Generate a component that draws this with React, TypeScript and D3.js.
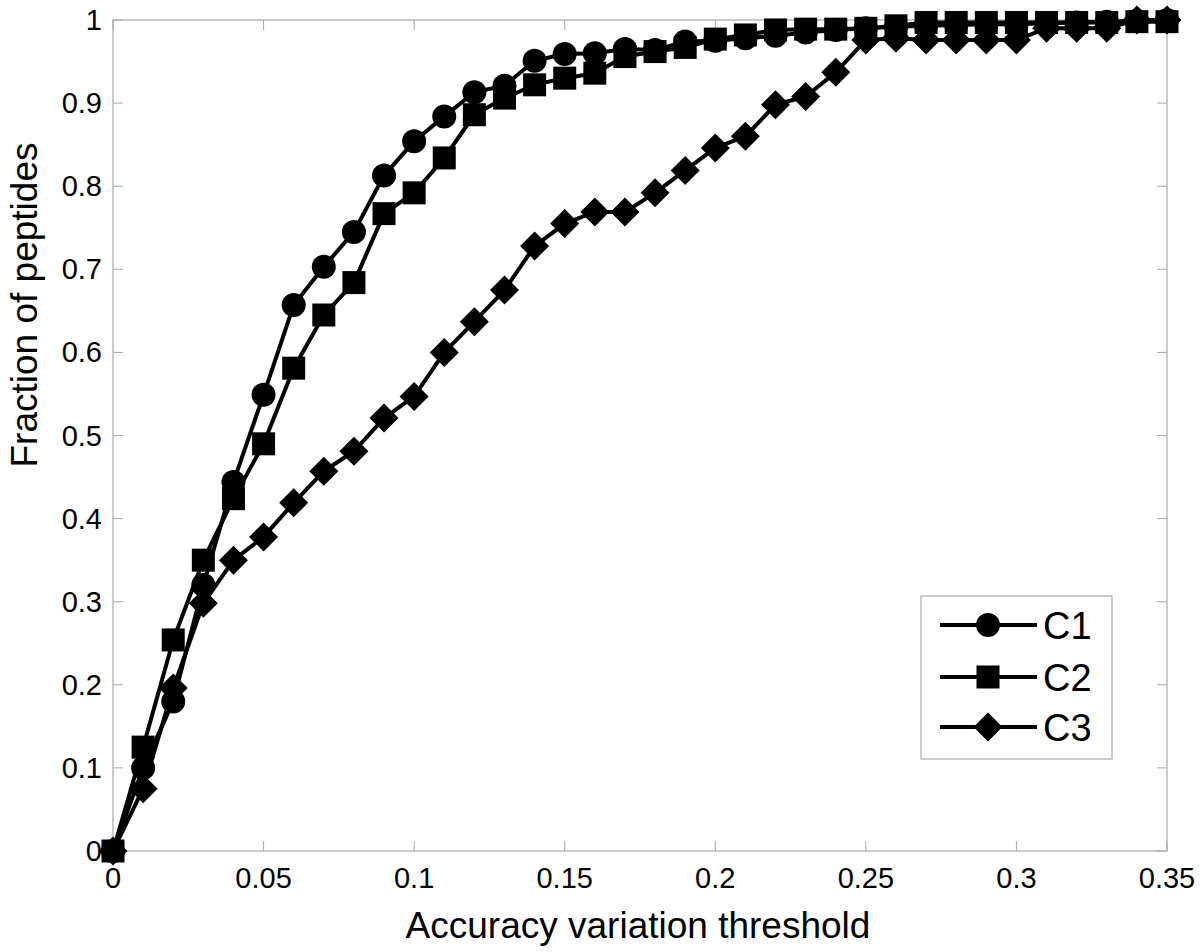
import React from 'react';
import * as d3 from 'd3';

const thresholds = d3.range(0, 36).map(i => i / 100);

const c1 = [0, 0.1, 0.18, 0.32, 0.444, 0.549, 0.657, 0.703, 0.745, 0.813, 0.854, 0.884, 0.913, 0.921, 0.951, 0.959, 0.96, 0.965, 0.964, 0.974, 0.975, 0.978, 0.981, 0.985, 0.988, 0.99, 0.992, 0.993, 0.994, 0.995, 0.995, 0.996, 0.997, 0.998, 0.999, 1.0];
const c2 = [0, 0.125, 0.254, 0.35, 0.424, 0.49, 0.581, 0.645, 0.684, 0.767, 0.792, 0.834, 0.886, 0.906, 0.922, 0.93, 0.936, 0.956, 0.962, 0.967, 0.977, 0.982, 0.988, 0.989, 0.989, 0.99, 0.993, 0.997, 0.997, 0.997, 0.997, 0.997, 0.997, 0.997, 0.998, 0.998];
const c3 = [0, 0.075, 0.196, 0.298, 0.35, 0.378, 0.419, 0.457, 0.481, 0.521, 0.547, 0.6, 0.637, 0.675, 0.728, 0.755, 0.769, 0.769, 0.792, 0.819, 0.846, 0.86, 0.898, 0.908, 0.937, 0.976, 0.978, 0.976, 0.976, 0.976, 0.976, 0.99, 0.99, 0.99, 1.0, 1.0];

const seriesNames = ['C1', 'C2', 'C3'];
const seriesValues = [c1, c2, c3];
const markerKinds = ['circle', 'square', 'diamond'];

const xTicks = [0, 0.05, 0.1, 0.15, 0.2, 0.25, 0.3, 0.35];
const yTicks = d3.range(0, 11).map(i => i / 10);

const font = '"Liberation Sans", Arial, sans-serif';

const width = 1200;
const height = 952;
const left = 113, right = 1167, top = 20, bottom = 851;

const x = d3.scaleLinear().domain([0, 0.35]).range([left, right]);
const y = d3.scaleLinear().domain([0, 1]).range([bottom, top]);

const tickLen = 10;
const axisColor = '#a8a8a8';

function Marker({ kind, cx, cy }: { kind: string; cx: number; cy: number }) {
  if (kind === 'circle') return <circle cx={cx} cy={cy} r={12} fill="#000" />;
  if (kind === 'square') return <rect x={cx - 11.5} y={cy - 11.5} width={23} height={23} fill="#000" />;
  const h = 14.5;
  return <path d={`M${cx},${cy - h}L${cx + h},${cy}L${cx},${cy + h}L${cx - h},${cy}Z`} fill="#000" />;
}

export default function App() {
  const line = d3.line<number>()
    .x((d, i) => x(thresholds[i]))
    .y(d => y(d));

  // legend layout
  const lgX = 921, lgY = 596, lgW = 191, lgH = 163;
  const lgRows = [625, 677, 727];

  return (
    <svg width={width} height={height} style={{ display: 'block', position: 'absolute', left: 0, top: 0, background: '#fff' }}>
      <rect x={0} y={0} width={width} height={height} fill="#fff" />

      {/* axes box + ticks */}
      <rect x={left} y={top} width={right - left} height={bottom - top} fill="none" stroke={axisColor} strokeWidth={1.2} />
      {xTicks.map(t => (
        <g key={'x' + t}>
          <line x1={x(t)} x2={x(t)} y1={bottom} y2={bottom - tickLen} stroke={axisColor} />
          <line x1={x(t)} x2={x(t)} y1={top} y2={top + tickLen} stroke={axisColor} />
          <text x={x(t)} y={bottom + 37} textAnchor="middle" fontFamily={font} fontSize={29} fill="#000">{String(t)}</text>
        </g>
      ))}
      {yTicks.map(t => (
        <g key={'y' + t}>
          <line x1={left} x2={left + tickLen} y1={y(t)} y2={y(t)} stroke={axisColor} />
          <line x1={right} x2={right - tickLen} y1={y(t)} y2={y(t)} stroke={axisColor} />
          <text x={102} y={y(t) + 10} textAnchor="end" fontFamily={font} fontSize={29} fill="#000">{String(t)}</text>
        </g>
      ))}

      {/* series */}
      {seriesValues.map((vals, si) => (
        <g key={seriesNames[si]}>
          <path d={line(vals) || ''} fill="none" stroke="#000" strokeWidth={4} strokeLinejoin="round" />
          {vals.map((v, i) => (
            <Marker key={i} kind={markerKinds[si]} cx={x(thresholds[i])} cy={y(v)} />
          ))}
        </g>
      ))}

      {/* axis titles */}
      <text x={638} y={938} textAnchor="middle" fontFamily={font} fontSize={37} fill="#000">Accuracy variation threshold</text>
      <text transform="translate(37,305) rotate(-90)" textAnchor="middle" fontFamily={font} fontSize={37} fill="#000">Fraction of peptides</text>

      {/* legend */}
      <rect x={lgX} y={lgY} width={lgW} height={lgH} fill="#fff" stroke={axisColor} strokeWidth={1.2} />
      {seriesNames.map((name, i) => (
        <g key={'lg' + name}>
          <line x1={940} x2={1037} y1={lgRows[i]} y2={lgRows[i]} stroke="#000" strokeWidth={4} />
          <Marker kind={markerKinds[i]} cx={988} cy={lgRows[i]} />
          <text x={1043} y={lgRows[i] + 14} fontFamily={font} fontSize={38} fill="#000">{name}</text>
        </g>
      ))}
    </svg>
  );
}
